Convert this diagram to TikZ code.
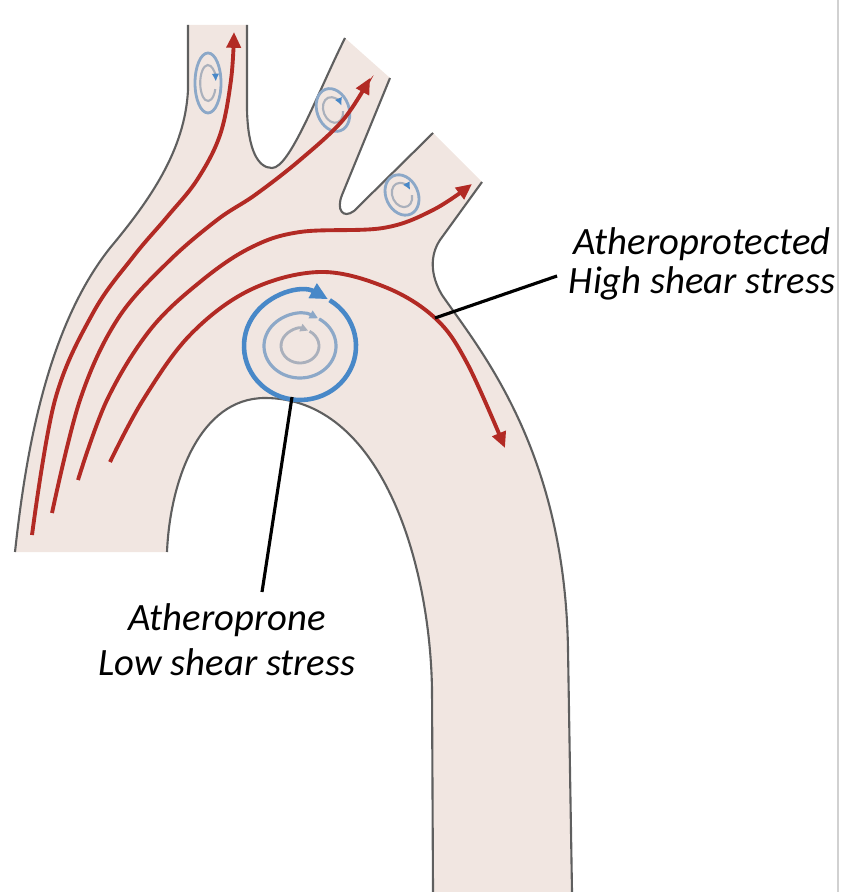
\documentclass[tikz,border=0pt]{standalone}
\usepackage{fontspec}
\setmainfont{Carlito}
\usetikzlibrary{arrows.meta}

\definecolor{tissue}{RGB}{241,230,225}
\definecolor{wallgray}{RGB}{95,95,95}
\definecolor{bloodred}{RGB}{178,42,36}
\definecolor{swirlblue}{RGB}{72,136,200}
\definecolor{swirlpale}{RGB}{140,168,200}
\definecolor{swirlgray}{RGB}{170,176,188}

\begin{document}
\begin{tikzpicture}[x=0.01cm, y=-0.01cm,
    wall/.style={wallgray, line width=0.6pt},
    flow/.style={bloodred, line width=1.1pt, -{Triangle[length=4.5pt, width=4pt]}},
    notetext/.style={font=\fontsize{11}{11}\selectfont\itshape, align=center},
    pointer/.style={black, line width=0.9pt}]
  \useasboundingbox (0,0) rectangle (841,892);

  % walls of the arch and its three branches
  \def\outerwall{(15,552) .. controls (25,460) and (45,330) .. (110,248)
    .. controls (150,200) and (185,150) .. (188,90) -- (188,25)}
  \def\firstfork{(247,25) -- (247,110) .. controls (248,150) and (258,168) .. (272,168)
    .. controls (290,168) and (318,92) .. (345,38)}
  \def\secondfork{(390,78) -- (342,195) .. controls (336,210) and (343,219) .. (354,211)
    -- (433,133)}
  \def\archwall{(482,182) -- (440,240) .. controls (430,255) and (430,275) .. (442,295)
    .. controls (480,350) and (565,450) .. (568,650) -- (572,892)}
  \def\innerwall{(433,892) -- (432,690) .. controls (430,560) and (380,398) .. (265,398)
    .. controls (200,398) and (170,480) .. (167,552)}

  \fill[tissue] \outerwall -- \firstfork -- \secondfork -- \archwall -- \innerwall -- cycle;
  \draw[wall] \outerwall;
  \draw[wall] \firstfork;
  \draw[wall] \secondfork;
  \draw[wall] \archwall;
  \draw[wall] \innerwall;

  % small eddies at the branch roots
  \foreach \cx/\cy/\rx/\ry/\rot in {208/83/13/30/0, 333/110/16/22/20, 402/195/16/21/25} {
    \begin{scope}[shift={(\cx,\cy)}, rotate=\rot]
      \pgfmathsetmacro\ix{0.6*\rx}
      \pgfmathsetmacro\iy{0.6*\ry}
      \pgfmathsetmacro\sx{\ix*cos(20)}
      \pgfmathsetmacro\sy{\iy*sin(20)}
      \draw[swirlpale, line width=0.8pt] (0,0) ellipse [x radius=\rx, y radius=\ry];
      \draw[swirlgray, line width=0.6pt, -{Latex[length=2.2pt, width=2.2pt, color=swirlblue]}]
        (\sx,\sy) arc[start angle=20, end angle=355, x radius=\ix, y radius=\iy];
    \end{scope}
  }

  % recirculation under the arch
  \begin{scope}[shift={(300,346)}]
    \draw[swirlblue, line width=1.3pt, -{Triangle[length=5pt, width=4.5pt]}]
      (-58:56 and 54) arc[start angle=-58, end angle=300, x radius=56, y radius=54];
    \draw[swirlpale, line width=0.9pt, -{Triangle[length=2.4pt, width=2.4pt]}]
      (-58:36 and 32) arc[start angle=-58, end angle=300, x radius=36, y radius=32];
    \draw[swirlgray, line width=0.8pt, -{Triangle[length=2.2pt, width=2.2pt]}]
      (-60:19 and 17) arc[start angle=-60, end angle=295, x radius=19, y radius=17];
  \end{scope}

  % streamlines
  \draw[flow] plot[smooth, tension=0.6] coordinates {(32,535) (55,400) (93,313) (133,257)
    (167,217) (197,180) (220,135) (231,80) (234,32)};
  \draw[flow] plot[smooth, tension=0.6] coordinates {(52,513) (80,400) (117,320) (167,263)
    (217,220) (255,195) (300,160) (343,120) (370,78)};
  \draw[flow] plot[smooth, tension=0.6] coordinates {(78,480) (107,400) (150,330) (200,282)
    (250,248) (300,232) (383,228) (433,210) (472,184)};
  \draw[flow] plot[smooth, tension=0.6] coordinates {(110,462) (143,400) (190,335) (250,290)
    (320,272) (385,287) (435,318) (467,363) (505,448)};

  % labels
  \node[notetext] (hi) at (702,264) {Atheroprotected\\High shear stress};
  \node[notetext, font=\fontsize{11}{12.8}\selectfont\itshape] (lo) at (227,640)
    {Atheroprone\\Low shear stress};

  \coordinate (hiflow) at (435,318);
  \coordinate (hitip) at (557,276);
  \coordinate (loswirl) at (292,397);
  \coordinate (lotip) at (262,592);
  \draw[pointer] (hiflow) -- (hitip);
  \draw[pointer] (loswirl) -- (lotip);

  \draw[black!18, line width=0.4pt] (838,0) -- (838,892);
\end{tikzpicture}
\end{document}
